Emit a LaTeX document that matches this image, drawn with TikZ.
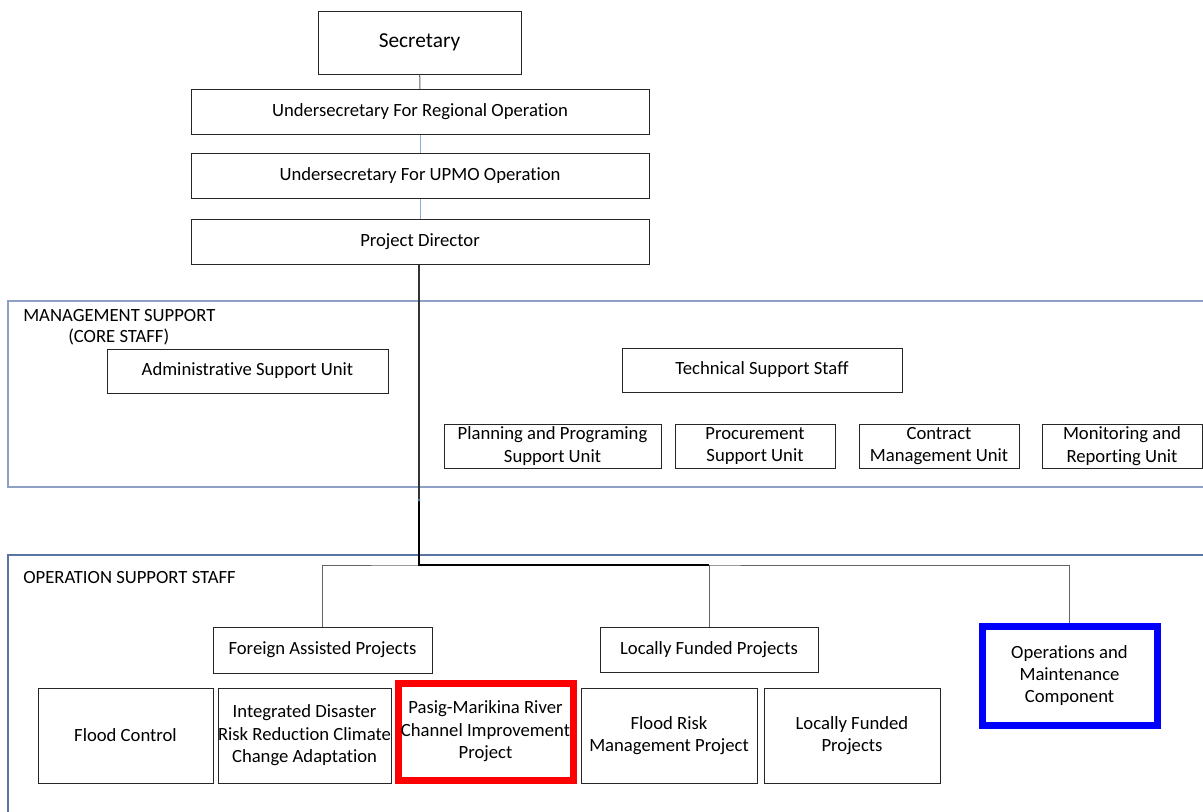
\documentclass[tikz,border=0pt]{standalone}
\usepackage{fontspec}
\setmainfont{Carlito}[Ligatures=NoCommon]
\definecolor{msframe}{RGB}{143,160,198}
\definecolor{osframe}{RGB}{90,115,165}
\definecolor{paleline}{RGB}{143,170,220}
\definecolor{greyline}{RGB}{100,100,100}

\begin{document}
\begin{tikzpicture}[x=0.75pt,y=-0.75pt,
  unit/.style={draw=black!85, line width=0.75pt, align=center, inner sep=0pt,
    font=\fontsize{14}{16.8}\selectfont},
  wide/.style={unit, minimum width=343.5pt, minimum height=33.75pt},
  small/.style={unit, minimum width=120pt, minimum height=33pt},
  project/.style={unit, minimum width=131.25pt, minimum height=71.25pt},
  marked/.style={unit, line width=5.25pt, minimum width=131.25pt},
  link/.style={draw=greyline, line width=0.75pt},
  caption/.style={anchor=west, inner sep=0pt, font=\fontsize{14}{16.8}\selectfont}]
\useasboundingbox[fill=white] (0,0) rectangle (1203,811);

% frames
\draw[msframe, line width=1.1pt] (8,301) rectangle (1215,487);
\draw[osframe, line width=0.9pt] (1215,555) -- (8,555) -- (8,830);
\node[caption] (mstitle) at (23,316) {MANAGEMENT SUPPORT};
\node[caption] (mscore) at (68,337) {(CORE STAFF)};
\node[caption] (ostitle) at (23,578) {OPERATION SUPPORT STAFF};

% top line
\node[unit, minimum width=152.25pt, minimum height=47.25pt,
  font=\fontsize{16}{18}\selectfont] (sec) at (419.5,42.5) {Secretary};
\node[wide] (usro) at (420,112) {Undersecretary For Regional Operation};
\node[wide] (usupmo) at (420,176) {Undersecretary For UPMO Operation};
\node[wide] (pd) at (420,241.5) {Project Director};

% management support
\node[unit, minimum width=210.75pt, minimum height=33pt] (asu) at (247.5,371) {Administrative Support Unit};
\node[unit, minimum width=210pt, minimum height=33pt] (tss) at (762,370) {Technical Support Staff};
\node[small, minimum width=162.75pt] (ppsu) at (552.5,446) {Planning and Programing\\Support Unit};
\node[small] (psu) at (755,446) {Procurement\\Support Unit};
\node[small] (cmu) at (939,446) {Contract\\Management Unit};
\node[small] (mru) at (1122,446) {Monitoring and\\Reporting Unit};

% operation support
\node[unit, minimum width=164.25pt, minimum height=34.5pt] (fap) at (322.5,650) {Foreign Assisted Projects};
\node[unit, minimum width=163.5pt, minimum height=33.75pt] (lfp) at (709,649.5) {Locally Funded Projects};
\node[marked, draw=blue, minimum height=74.25pt] (om) at (1069.5,675.5) {Operations and\\Maintenance\\Component};

\node[project] (fc) at (125.5,735.5) {Flood Control};
\node[project, minimum width=129.75pt] (idrr) at (304.5,735.5) {Integrated Disaster\\Risk Reduction Climate\\Change Adaptation};
\node[marked, draw=red, minimum height=72.75pt] (pmr) at (485.5,731.5) {Pasig-Marikina River\\Channel Improvement\\Project};
\node[project, minimum width=132pt] (frmp) at (669,735.5) {Flood Risk\\Management Project};
\node[project, minimum width=132pt] (lfp2) at (852,735.5) {Locally Funded\\Projects};

% connectors
\coordinate (drop) at (419,500);
\coordinate (bus) at (419,565);
\draw[link] (sec) -- (usro);
\draw[paleline, line width=0.75pt] (usro) -- (usupmo);
\draw[paleline, line width=0.75pt] (usupmo) -- (pd);
\draw[black!80, line width=0.9pt] (pd.south -| drop) -- (drop);
\draw[link] (fap.north) |- (bus) -| (om.north);
\draw[link] (lfp.north) -- (lfp.north |- bus);
\draw[black, line width=1.5pt] (drop) -- (bus) -- (bus -| lfp.north);
\fill[osframe] (drop) circle (1.5);
\end{tikzpicture}
\end{document}
